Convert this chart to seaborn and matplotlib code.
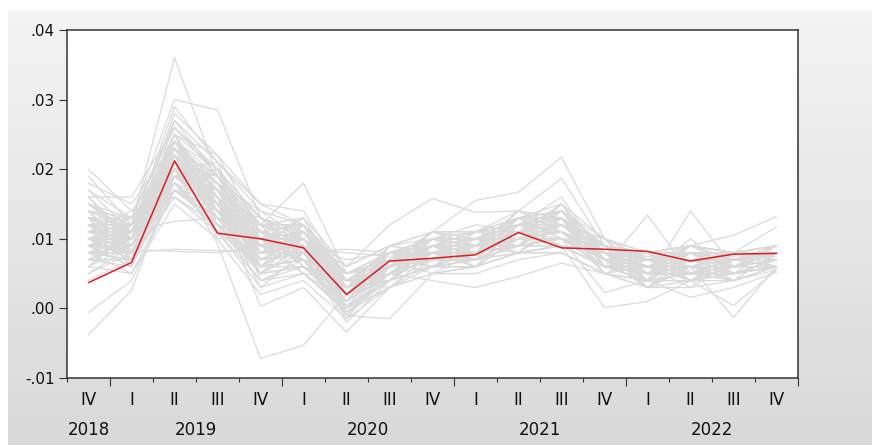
import numpy as np
import pandas as pd
import matplotlib
matplotlib.use("Agg")
import matplotlib.pyplot as plt
import matplotlib.transforms as mtransforms
from matplotlib.ticker import FuncFormatter
import seaborn as sns

# Quarterly periods on the horizontal axis
period_years = ["2018", "2019", "2019", "2019", "2019", "2020", "2020", "2020", "2020",
                "2021", "2021", "2021", "2021", "2022", "2022", "2022", "2022"]
period_quarters = ["IV", "I", "II", "III", "IV", "I", "II", "III", "IV",
                   "I", "II", "III", "IV", "I", "II", "III", "IV"]

# Highlighted path (mean forecast)
mean_path = [0.0037, 0.0066, 0.0212, 0.0108, 0.0100, 0.0087, 0.0020, 0.0068, 0.0072,
             0.0077, 0.0109, 0.0087, 0.0085, 0.0082, 0.0068, 0.0078, 0.0079]

# Individual simulated paths
sim_paths = [
    [.0100, .0120, .0360, .0190, .0110, .0090, .0030, .0060, .0080, .0090, .0110, .0120, .0080, .0060, .0070, .0060, .0070],
    [.0120, .0130, .0300, .0285, .0130, .0100, .0040, .0070, .0090, .0100, .0120, .0140, .0090, .0070, .0080, .0070, .0080],
    [.0110, .0110, .0290, .0210, .0140, .0120, .0050, .0080, .0100, .0110, .0130, .0150, .0100, .0080, .0090, .0080, .0080],
    [-.0038, .0026, .0190, .0150, .0070, .0080, .0010, .0050, .0070, .0070, .0090, .0100, .0070, .0050, .0060, .0060, .0070],
    [-.0006, .0040, .0170, .0120, .0050, .0060, .0000, .0040, .0060, .0070, .0080, .0090, .0060, .0050, .0050, .0050, .0060],
    [.0090, .0100, .0200, .0093, -.0072, -.0053, .0021, .0060, .0080, .0080, .0100, .0110, .0070, .0060, .0060, .0060, .0070],
    [.0130, .0110, .0230, .0170, .0120, .0180, .0050, .0070, .0090, .0090, .0110, .0120, .0080, .0070, .0070, .0070, .0080],
    [.0100, .0090, .0220, .0160, .0003, .0030, -.0034, .0030, .0060, .0070, .0090, .0100, .0060, .0050, .0050, .0050, .0060],
    [.0080, .0080, .0180, .0130, .0060, .0070, -.0010, -.0015, .0050, .0060, .0080, .0090, .0060, .0040, .0050, .0040, .0060],
    [.0120, .0100, .0210, .0150, .0090, .0100, .0060, .0120, .0158, .0138, .0140, .0130, .0090, .0070, .0080, .0070, .0080],
    [.0090, .0090, .0190, .0140, .0070, .0080, .0020, .0050, .0040, .0030, .0046, .0065, .0050, .0040, .0040, .0050, .0060],
    [.0110, .0100, .0240, .0180, .0100, .0110, .0040, .0070, .0110, .0155, .0167, .0217, .0100, .0080, .0090, .0080, .0090],
    [.0100, .0110, .0220, .0170, .0110, .0100, .0030, .0060, .0090, .0110, .0140, .0187, .0090, .0070, .0080, .0070, .0080],
    [.0080, .0070, .0160, .0120, .0060, .0060, .0010, .0050, .0060, .0060, .0080, .0090, .0001, .0010, .0040, .0060, .0070],
    [.0090, .0080, .0170, .0130, .0060, .0070, .0020, .0050, .0070, .0070, .0090, .0100, .0023, .0040, .0016, .0030, .0052],
    [.0100, .0090, .0200, .0150, .0080, .0090, .0030, .0060, .0080, .0080, .0100, .0110, .0060, .0134, .0050, .0070, .0080],
    [.0110, .0100, .0210, .0160, .0090, .0090, .0030, .0060, .0080, .0080, .0100, .0110, .0070, .0040, .0140, .0060, .0070],
    [.0090, .0090, .0190, .0140, .0070, .0080, .0020, .0060, .0070, .0080, .0090, .0100, .0060, .0050, .0060, -.0013, .0060],
    [.0100, .0100, .0200, .0150, .0080, .0090, .0030, .0060, .0080, .0080, .0100, .0110, .0070, .0060, .0040, .0004, .0055],
    [.0100, .0090, .0200, .0150, .0080, .0090, .0020, .0070, .0080, .0080, .0110, .0120, .0080, .0070, .0090, .0105, .0132],
    [.0110, .0100, .0210, .0160, .0090, .0100, .0030, .0070, .0090, .0090, .0110, .0120, .0080, .0070, .0080, .0080, .0117],
    [.0200, .0140, .0220, .0150, .0100, .0090, .0040, .0070, .0080, .0090, .0100, .0110, .0080, .0060, .0070, .0070, .0080],
    [.0180, .0150, .0240, .0170, .0120, .0100, .0050, .0080, .0090, .0090, .0110, .0130, .0090, .0070, .0080, .0070, .0080],
    [.0160, .0160, .0260, .0200, .0130, .0110, .0050, .0080, .0100, .0100, .0120, .0130, .0090, .0080, .0090, .0080, .0090],
    [.0080, .0080, .0085, .0083, .0080, .0080, .0085, .0080, .0080, .0080, .0090, .0090, .0080, .0080, .0080, .0080, .0080],
    [.0090, .0085, .0082, .0080, .0090, .0085, .0080, .0075, .0080, .0080, .0090, .0090, .0080, .0075, .0070, .0075, .0080],
    [.0150, .0110, .0125, .0130, .0110, .0090, .0070, .0080, .0090, .0090, .0100, .0100, .0080, .0070, .0070, .0070, .0075],
    [.0140, .0120, .0250, .0220, .0150, .0120, .0060, .0090, .0110, .0110, .0130, .0140, .0100, .0080, .0090, .0080, .0090],
    [.0070, .0060, .0180, .0110, .0040, .0050, .0000, .0040, .0060, .0060, .0080, .0090, .0060, .0040, .0050, .0050, .0060],
    [.0060, .0050, .0150, .0100, .0020, .0040, -.0015, .0030, .0050, .0060, .0080, .0080, .0050, .0030, .0040, .0040, .0055],
    [.0120, .0110, .0230, .0170, .0100, .0110, .0040, .0070, .0090, .0090, .0110, .0120, .0080, .0060, .0070, .0070, .0080],
    [.0130, .0120, .0240, .0190, .0110, .0120, .0050, .0080, .0100, .0100, .0120, .0130, .0090, .0070, .0080, .0070, .0080],
    [.0100, .0090, .0210, .0160, .0080, .0080, .0020, .0060, .0080, .0080, .0100, .0110, .0070, .0050, .0060, .0060, .0070],
    [.0090, .0080, .0190, .0140, .0060, .0070, .0010, .0050, .0070, .0070, .0090, .0100, .0060, .0050, .0050, .0060, .0070],
    [.0110, .0090, .0220, .0140, .0090, .0070, .0010, .0060, .0070, .0080, .0100, .0120, .0070, .0060, .0060, .0070, .0080],
    [.0080, .0100, .0200, .0170, .0110, .0090, .0020, .0050, .0080, .0070, .0100, .0110, .0080, .0050, .0070, .0060, .0070],
    [.0120, .0080, .0190, .0150, .0070, .0100, .0030, .0070, .0090, .0100, .0120, .0110, .0070, .0060, .0050, .0060, .0070],
    [.0140, .0130, .0270, .0190, .0120, .0130, .0060, .0090, .0110, .0100, .0130, .0140, .0090, .0080, .0080, .0080, .0090],
    [.0100, .0070, .0170, .0120, .0050, .0060, .0005, .0040, .0060, .0060, .0080, .0080, .0050, .0040, .0040, .0050, .0060],
    [.0070, .0070, .0160, .0110, .0030, .0050, -.0005, .0030, .0050, .0050, .0070, .0080, .0050, .0030, .0030, .0040, .0060],
    [.0130, .0100, .0220, .0180, .0140, .0100, .0030, .0060, .0080, .0090, .0110, .0120, .0080, .0060, .0070, .0070, .0080],
    [.0110, .0120, .0240, .0150, .0100, .0080, .0040, .0080, .0100, .0090, .0120, .0130, .0090, .0070, .0070, .0070, .0080],
    [.0090, .0110, .0210, .0190, .0130, .0110, .0020, .0060, .0090, .0090, .0110, .0120, .0070, .0060, .0060, .0060, .0070],
    [.0120, .0090, .0200, .0130, .0080, .0090, .0030, .0050, .0070, .0080, .0090, .0100, .0070, .0050, .0060, .0060, .0070],
    [.0100, .0100, .0230, .0160, .0090, .0100, .0010, .0060, .0080, .0080, .0100, .0110, .0080, .0060, .0070, .0070, .0080],
    [.0150, .0130, .0220, .0180, .0110, .0120, .0050, .0070, .0100, .0100, .0120, .0140, .0090, .0080, .0080, .0080, .0090],
    [.0080, .0090, .0180, .0130, .0080, .0070, .0020, .0050, .0070, .0070, .0090, .0100, .0060, .0050, .0050, .0050, .0060],
    [.0110, .0100, .0190, .0140, .0090, .0080, .0010, .0060, .0080, .0080, .0100, .0110, .0070, .0060, .0070, .0060, .0070],
    [.0090, .0100, .0250, .0200, .0120, .0110, .0040, .0070, .0090, .0090, .0110, .0130, .0080, .0070, .0080, .0070, .0080],
    [.0100, .0080, .0210, .0150, .0070, .0080, .0020, .0060, .0070, .0070, .0090, .0100, .0070, .0050, .0060, .0060, .0070],
    [.0130, .0110, .0200, .0160, .0100, .0090, .0030, .0070, .0080, .0090, .0110, .0110, .0080, .0060, .0070, .0070, .0080],
    [.0120, .0120, .0220, .0140, .0090, .0100, .0040, .0060, .0090, .0080, .0100, .0120, .0080, .0070, .0070, .0070, .0080],
    [.0080, .0080, .0200, .0120, .0060, .0070, -.0020, .0040, .0060, .0070, .0080, .0090, .0060, .0040, .0050, .0050, .0060],
    [.0170, .0130, .0210, .0160, .0100, .0110, .0030, .0070, .0090, .0090, .0110, .0120, .0080, .0060, .0070, .0060, .0080],
    [.0190, .0120, .0230, .0170, .0110, .0100, .0040, .0080, .0090, .0100, .0120, .0120, .0080, .0070, .0070, .0070, .0080],
    [.0100, .0110, .0200, .0210, .0150, .0140, .0040, .0070, .0090, .0090, .0110, .0120, .0070, .0060, .0070, .0070, .0080],
    [.0090, .0090, .0220, .0180, .0120, .0120, .0050, .0080, .0100, .0090, .0110, .0130, .0090, .0070, .0080, .0080, .0090],
    [.0110, .0090, .0180, .0120, .0040, .0060, .0010, .0050, .0070, .0070, .0090, .0100, .0060, .0050, .0050, .0060, .0070],
    [.0120, .0110, .0210, .0140, .0080, .0090, .0020, .0060, .0080, .0080, .0100, .0110, .0070, .0060, .0060, .0060, .0070],
    [.0100, .0100, .0220, .0160, .0100, .0100, .0030, .0070, .0090, .0090, .0110, .0120, .0080, .0060, .0070, .0070, .0080],
    [.0140, .0070, .0190, .0170, .0050, .0110, .0020, .0070, .0060, .0100, .0090, .0130, .0070, .0030, .0080, .0050, .0070],
    [.0060, .0120, .0250, .0120, .0100, .0050, .0040, .0040, .0100, .0070, .0130, .0100, .0090, .0060, .0040, .0080, .0060],
    [.0090, .0060, .0230, .0190, .0080, .0120, .0000, .0080, .0070, .0110, .0100, .0150, .0060, .0080, .0060, .0040, .0080],
    [.0160, .0090, .0170, .0140, .0120, .0060, .0030, .0050, .0090, .0060, .0120, .0090, .0080, .0040, .0090, .0070, .0060],
    [.0050, .0080, .0210, .0110, .0060, .0090, .0050, .0060, .0110, .0090, .0080, .0120, .0100, .0050, .0050, .0060, .0090],
    [.0120, .0130, .0260, .0200, .0040, .0070, .0010, .0090, .0080, .0080, .0140, .0110, .0050, .0070, .0070, .0050, .0070],
    [.0080, .0110, .0180, .0150, .0130, .0100, -.0010, .0050, .0100, .0120, .0110, .0140, .0070, .0060, .0030, .0070, .0060],
    [.0130, .0060, .0200, .0130, .0090, .0130, .0020, .0070, .0050, .0080, .0100, .0100, .0090, .0040, .0080, .0060, .0080],
    [.0070, .0100, .0240, .0180, .0070, .0080, .0040, .0030, .0080, .0100, .0090, .0130, .0060, .0070, .0060, .0080, .0070],
    [.0150, .0120, .0220, .0100, .0110, .0090, .0010, .0060, .0090, .0070, .0130, .0120, .0080, .0050, .0100, .0050, .0090],
    [.0100, .0070, .0270, .0210, .0060, .0100, .0030, .0080, .0100, .0090, .0120, .0160, .0070, .0080, .0050, .0060, .0060],
    [.0110, .0140, .0160, .0120, .0100, .0070, .0000, .0050, .0070, .0110, .0100, .0110, .0090, .0030, .0070, .0070, .0070],
    [.0060, .0090, .0190, .0160, .0080, .0110, .0050, .0070, .0060, .0080, .0110, .0090, .0060, .0060, .0080, .0040, .0080],
    [.0170, .0110, .0240, .0140, .0050, .0060, .0020, .0040, .0090, .0100, .0080, .0120, .0100, .0070, .0040, .0070, .0060],
    [.0090, .0120, .0210, .0190, .0120, .0120, .0030, .0090, .0080, .0070, .0120, .0140, .0080, .0050, .0060, .0080, .0090],
    [.0120, .0080, .0180, .0120, .0070, .0080, -.0015, .0060, .0110, .0090, .0100, .0100, .0070, .0080, .0090, .0060, .0070],
    [.0040, .0070, .0220, .0170, .0090, .0050, .0010, .0050, .0070, .0080, .0130, .0130, .0050, .0040, .0050, .0050, .0060],
    [.0130, .0100, .0280, .0220, .0110, .0090, .0040, .0070, .0100, .0110, .0110, .0120, .0090, .0060, .0070, .0070, .0080],
    [.0100, .0130, .0200, .0150, .0030, .0080, .0020, .0080, .0060, .0090, .0090, .0150, .0080, .0070, .0050, .0060, .0070],
    [.0080, .0050, .0170, .0130, .0100, .0100, .0030, .0040, .0080, .0060, .0100, .0110, .0060, .0050, .0080, .0070, .0090],
    [.0140, .0110, .0230, .0180, .0060, .0120, .0000, .0060, .0090, .0100, .0120, .0130, .0070, .0030, .0060, .0050, .0060],
    [.0070, .0090, .0210, .0140, .0110, .0070, .0050, .0070, .0070, .0080, .0110, .0100, .0090, .0060, .0070, .0080, .0080],
    [.0110, .0100, .0250, .0160, .0080, .0090, .0010, .0090, .0100, .0090, .0140, .0120, .0080, .0080, .0040, .0060, .0070],
    [.0090, .0120, .0190, .0200, .0090, .0110, .0030, .0050, .0080, .0070, .0090, .0140, .0060, .0050, .0090, .0070, .0080],
    [.0120, .0080, .0220, .0130, .0120, .0060, .0020, .0060, .0110, .0100, .0100, .0110, .0070, .0070, .0060, .0040, .0060],
    [.0150, .0100, .0200, .0170, .0070, .0100, .0040, .0080, .0070, .0110, .0120, .0120, .0100, .0040, .0070, .0080, .0070],
    [.0060, .0110, .0240, .0150, .0050, .0090, -.0005, .0040, .0090, .0080, .0110, .0090, .0060, .0060, .0050, .0060, .0090],
    [.0100, .0090, .0180, .0110, .0100, .0130, .0030, .0070, .0060, .0090, .0080, .0130, .0080, .0070, .0080, .0050, .0070],
    [.0130, .0130, .0260, .0190, .0130, .0080, .0010, .0060, .0100, .0100, .0130, .0140, .0070, .0050, .0060, .0070, .0080],
    [.0080, .0070, .0210, .0160, .0060, .0070, .0040, .0050, .0080, .0060, .0100, .0100, .0090, .0080, .0070, .0060, .0060],
    [.0110, .0110, .0230, .0120, .0090, .0110, .0020, .0080, .0090, .0110, .0110, .0150, .0060, .0060, .0090, .0080, .0080],
    [.0140, .0080, .0190, .0180, .0080, .0090, .0000, .0030, .0070, .0090, .0120, .0110, .0080, .0040, .0050, .0060, .0070],
    [.0070, .0100, .0220, .0140, .0110, .0060, .0030, .0070, .0100, .0080, .0090, .0120, .0100, .0070, .0060, .0050, .0060],
    [.0120, .0120, .0170, .0160, .0070, .0100, .0050, .0060, .0080, .0100, .0130, .0130, .0070, .0050, .0070, .0070, .0090],
    [.0090, .0060, .0240, .0200, .0100, .0120, .0020, .0050, .0090, .0070, .0100, .0100, .0060, .0060, .0080, .0060, .0070],
    [.0160, .0100, .0210, .0130, .0050, .0080, .0010, .0080, .0070, .0090, .0110, .0140, .0090, .0070, .0050, .0080, .0080],
    [.0100, .0110, .0190, .0170, .0120, .0090, .0040, .0060, .0110, .0110, .0120, .0110, .0080, .0030, .0060, .0060, .0060],
    [.0050, .0090, .0230, .0150, .0080, .0110, .0030, .0070, .0060, .0080, .0090, .0130, .0050, .0060, .0070, .0050, .0070],
    [.0130, .0070, .0200, .0190, .0090, .0070, -.0010, .0060, .0090, .0100, .0110, .0120, .0080, .0080, .0040, .0070, .0080],
    [.0110, .0120, .0250, .0140, .0060, .0100, .0020, .0040, .0080, .0090, .0130, .0100, .0070, .0050, .0080, .0080, .0090],
]

y_ticks = [-0.01, 0.00, 0.01, 0.02, 0.03, 0.04]

# Long-form table for seaborn
n_periods = len(period_quarters)
t = np.arange(n_periods)
sim_df = pd.DataFrame(
    [(k, i, v) for k, path in enumerate(sim_paths) for i, v in enumerate(path)],
    columns=["path", "t", "value"],
)
mean_df = pd.DataFrame({"t": t, "value": mean_path})

sns.set_style("white")
plt.rcParams["font.family"] = ["DejaVu Sans"]

W, H = 872, 445
fig = plt.figure(figsize=(W / 100, H / 100), dpi=100)
fig.patch.set_facecolor("white")

# Window-style backdrop: light vertical gradient with a white margin
bg = fig.add_axes([8 / W, 0, 1 - 8 / W, 1 - 10 / H], zorder=-5)
top = np.array([0.957, 0.957, 0.957])
bot = np.array([0.851, 0.851, 0.851])
frac = np.linspace(0, 1, 256)[:, None, None]
grad = top * (1 - frac) + bot * frac
grad = np.repeat(grad, 2, axis=1)
bg.imshow(grad, aspect="auto", extent=[0, 1, 0, 1])
bg.set_axis_off()

ax_l, ax_r, ax_t, ax_b = 67, 798, 30, 378
ax = fig.add_axes([ax_l / W, 1 - ax_b / H, (ax_r - ax_l) / W, (ax_b - ax_t) / H])
ax.set_facecolor("white")

sns.lineplot(data=sim_df, x="t", y="value", units="path", estimator=None,
             color="#dadada", linewidth=0.9, ax=ax, legend=False)
sns.lineplot(data=mean_df, x="t", y="value", color="#d81e1e",
             linewidth=1.1, ax=ax, legend=False)

ax.set_xlim(-0.5, n_periods - 0.5)
ax.set_ylim(y_ticks[0], y_ticks[-1])
ax.set_xlabel("")
ax.set_ylabel("")

# Y axis
ax.set_yticks(y_ticks)
ax.yaxis.set_major_formatter(FuncFormatter(lambda v, _: f"{v:.2f}".replace("0.", ".")))
ax.tick_params(axis="y", direction="out", length=6, width=0.8, color="#333333",
               labelsize=11, pad=3, labelcolor="#111111", left=True)

# X axis: short ticks between quarters, long ticks between years
boundaries = np.arange(-0.5, n_periods, 1.0)
year_bounds = [b for b in boundaries
               if b > 0 and (int(b + 0.5) >= n_periods or
                             period_years[int(b - 0.5)] != period_years[int(b + 0.5)])]
ax.set_xticks(year_bounds)
ax.set_xticks([b for b in boundaries if b not in year_bounds], minor=True)
ax.tick_params(axis="x", which="major", direction="out", length=6, width=0.8,
               color="#333333", labelbottom=False, bottom=True)
ax.tick_params(axis="x", which="minor", direction="out", length=3, width=0.8,
               color="#333333", labelbottom=False, bottom=True)

trans = mtransforms.blended_transform_factory(ax.transData, ax.transAxes)
for i, q in enumerate(period_quarters):
    ax.text(i, -22 / (ax_b - ax_t), q, transform=trans, ha="center", va="center",
            fontsize=12, color="#111111")
for yr in dict.fromkeys(period_years):
    idx = [i for i, y in enumerate(period_years) if y == yr]
    ax.text(np.mean(idx), -52 / (ax_b - ax_t), yr, transform=trans, ha="center",
            va="center", fontsize=12, color="#111111")

for side in ["left", "right", "top", "bottom"]:
    ax.spines[side].set_visible(True)
    ax.spines[side].set_color("#333333")
    ax.spines[side].set_linewidth(1.1)

fig.savefig("out.png", dpi=100)
